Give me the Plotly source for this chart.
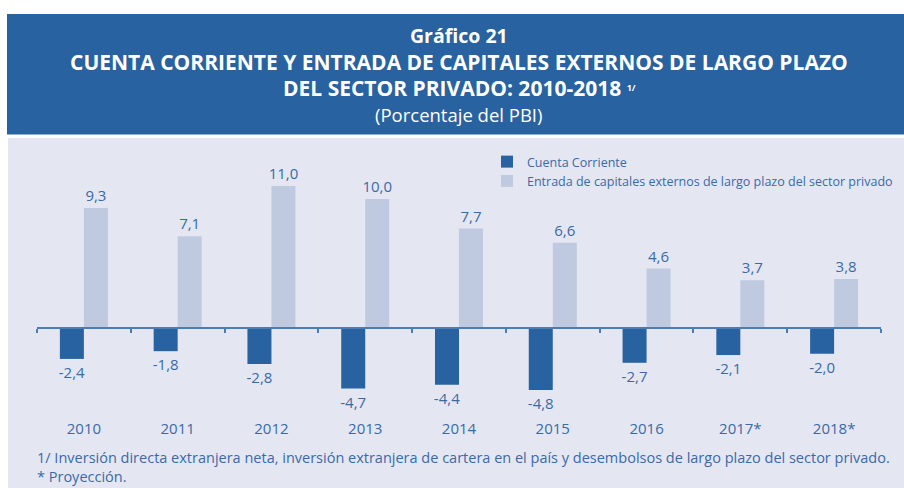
import plotly.graph_objects as go

years = ["2010", "2011", "2012", "2013", "2014", "2015", "2016", "2017*", "2018*"]
cuenta_corriente = [-2.4, -1.8, -2.8, -4.7, -4.4, -4.8, -2.7, -2.1, -2.0]
entrada_capitales = [9.3, 7.1, 11.0, 10.0, 7.7, 6.6, 4.6, 3.7, 3.8]

W, H = 904, 488
L, R, T, B = 37, 23, 140, 70
PW, PH = W - L - R, H - T - B

def px(x):
    return (x - L) / PW

def py(y):
    return (H - B - y) / PH

DARK = "#2862A0"
LIGHT = "#BFCAE1"
BG = "#E4E7F2"
TXT = "#3A6AA8"
FONT = "Open Sans"

xs = list(range(len(years)))

fig = go.Figure()
fig.add_trace(go.Bar(
    x=xs, y=cuenta_corriente, name="Cuenta Corriente",
    marker=dict(color=DARK, line=dict(width=0)),
    texttemplate="%{y:.1f}", textposition="outside", constraintext="none",
    textfont=dict(family=FONT, size=15, color=TXT), cliponaxis=False,
))
fig.add_trace(go.Bar(
    x=xs, y=entrada_capitales,
    name="Entrada de capitales externos de largo plazo del sector privado",
    marker=dict(color=LIGHT, line=dict(width=0)),
    texttemplate="%{y:.1f}", textposition="outside", constraintext="none",
    textfont=dict(family=FONT, size=15, color=TXT), cliponaxis=False,
))
# invisible trace for the zero-line axis with boundary ticks
fig.add_trace(go.Scatter(x=[0], y=[0], xaxis="x2", mode="markers",
                         marker=dict(opacity=0), showlegend=False, hoverinfo="skip"))

ymin, ymax = -6.98, 14.57
zero_pos = (0 - ymin) / (ymax - ymin)

fig.update_layout(
    width=W, height=H,
    margin=dict(l=L, r=R, t=T, b=B, autoexpand=False),
    paper_bgcolor="white", plot_bgcolor="rgba(0,0,0,0)",
    separators=",.",
    barmode="group", bargap=0.488, bargroupgap=0,
    font=dict(family=FONT, color=TXT),
    showlegend=True,
    legend=dict(x=px(487), y=py(147), xanchor="left", yanchor="top",
                bgcolor="rgba(0,0,0,0)", font=dict(family=FONT, size=12.5, color=TXT),
                tracegroupgap=0, itemsizing="constant"),
    xaxis=dict(range=[-0.5, len(years) - 0.5], tickvals=xs, ticktext=years,
               showgrid=False, zeroline=False, showline=False, ticks="",
               tickfont=dict(family=FONT, size=15, color=TXT)),
    xaxis2=dict(range=[-0.5, len(years) - 0.5], overlaying="x", anchor="free",
                position=zero_pos, side="bottom",
                tickvals=[i - 0.5 for i in range(len(years) + 1)],
                showticklabels=False, ticks="outside", ticklen=4, tickwidth=1.5,
                tickcolor="#4A7DB5", showline=True, linecolor="#4A7DB5", linewidth=2,
                showgrid=False, zeroline=False),
    yaxis=dict(range=[ymin, ymax], visible=False, showgrid=False, zeroline=False),
    shapes=[
        dict(type="rect", xref="paper", yref="paper", x0=px(7), x1=px(904), y0=py(14), y1=py(134.5),
             fillcolor=DARK, line=dict(width=0), layer="below"),
        dict(type="rect", xref="paper", yref="paper", x0=px(8), x1=px(904), y0=py(138), y1=py(488),
             fillcolor=BG, line=dict(width=0), layer="below"),
    ],
)

ann = [
    ("<b>Gráfico 21</b>", 35.5, 19.5),
    ("<b>CUENTA CORRIENTE Y ENTRADA DE CAPITALES EXTERNOS DE LARGO PLAZO</b>", 62, 21),
    ("<b>DEL SECTOR PRIVADO: 2010-2018 <span style='font-size:13px'><sup>1/</sup></span></b>", 88, 21),
    ("(Porcentaje del PBI)", 114.5, 18.5),
]
for text, yc, size in ann:
    fig.add_annotation(text=text, xref="paper", yref="paper", x=px(459), y=py(yc),
                       xanchor="center", yanchor="middle", showarrow=False,
                       font=dict(family=FONT, size=size, color="white"))

foot = [
    ("1/ Inversión directa extranjera neta, inversión extranjera de cartera en el país y desembolsos de largo plazo del sector privado.", 457),
    ("* Proyección.", 476),
]
for text, yc in foot:
    fig.add_annotation(text=text, xref="paper", yref="paper", x=px(35), y=py(yc),
                       xanchor="left", yanchor="middle", showarrow=False,
                       font=dict(family=FONT, size=14.5, color=TXT))

fig.write_html("out.html", config={"displayModeBar": False},
               post_script="document.body.style.margin='0';")
